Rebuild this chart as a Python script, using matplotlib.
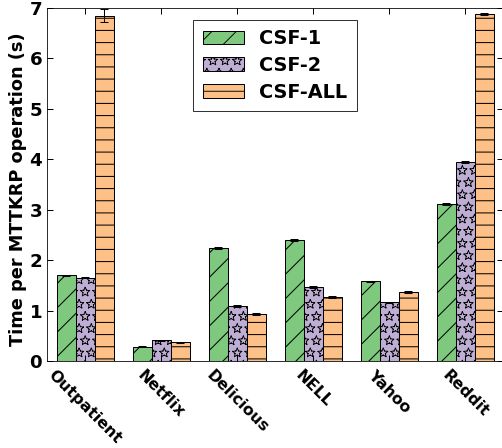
import numpy as np
import matplotlib
matplotlib.use("Agg")
import matplotlib.pyplot as plt
from matplotlib import hatch as mhatch
from matplotlib.path import Path

datasets = ["Outpatient", "Netflix", "Delicious", "NELL", "Yahoo", "Reddit"]
series_names = ["CSF-1", "CSF-2", "CSF-ALL"]
csf1 = [1.70, 0.28, 2.24, 2.40, 1.58, 3.12]
csf2 = [1.65, 0.41, 1.09, 1.47, 1.17, 3.94]
csfall = [6.85, 0.37, 0.93, 1.27, 1.37, 6.88]
csf1_err = [0.01, 0.01, 0.02, 0.02, 0.01, 0.02]
csf2_err = [0.01, 0.01, 0.02, 0.02, 0.01, 0.02]
csfall_err = [0.13, 0.01, 0.02, 0.02, 0.01, 0.02]
y_ticks = [0, 1, 2, 3, 4, 5, 6, 7]

colors = ["#7fc97f", "#beaed4", "#fdc086"]
hatches = ["/", "*", "-"]
hatch_widths = [1.0, 0.9, 1.0]


class OutlineStars(mhatch.HatchPatternBase):
    """Star hatch drawn as separate edge segments so the stars stay hollow."""
    size = 0.38

    def __init__(self, hatch, density):
        self.num_rows = hatch.count("*") * density
        star = Path.unit_regular_star(5).vertices[:10]
        self.edges = np.empty((20, 2))
        self.edges[0::2] = star
        self.edges[1::2] = np.roll(star, -1, axis=0)
        if self.num_rows == 0:
            self.num_shapes = 0
        else:
            self.num_shapes = ((self.num_rows // 2 + 1) * (self.num_rows + 1)
                               + (self.num_rows // 2) * self.num_rows)
        self.num_vertices = self.num_shapes * len(self.edges)

    def set_vertices_and_codes(self, vertices, codes):
        offset = 1.0 / self.num_rows
        shape = self.edges * offset * self.size
        shape_codes = np.tile([Path.MOVETO, Path.LINETO], 10)
        parts, code_parts = [], []
        for row in range(self.num_rows + 1):
            if row % 2 == 0:
                cols = np.linspace(0, 1, self.num_rows + 1)
            else:
                cols = np.linspace(offset / 2, 1 - offset / 2, self.num_rows)
            for col in cols:
                parts.append(shape + [col, row * offset])
                code_parts.append(shape_codes)
        vertices[:] = np.concatenate(parts)
        codes[:] = np.concatenate(code_parts)


mhatch._hatch_types = [OutlineStars if t is mhatch.Stars else t
                       for t in mhatch._hatch_types]

plt.rcParams["font.weight"] = "bold"

dpi = 73
fig = plt.figure(figsize=(502 / dpi, 448 / dpi), dpi=dpi)
ax = fig.add_axes([0.094, 0.194, 0.908, 0.788])

x = np.arange(len(datasets))
width = 0.25
values = [csf1, csf2, csfall]
errors = [csf1_err, csf2_err, csfall_err]
for i, (vals, errs) in enumerate(zip(values, errors)):
    with plt.rc_context({"hatch.linewidth": hatch_widths[i]}):
        ax.bar(x + (i - 1) * width, vals, width, yerr=errs, color=colors[i],
               edgecolor="black", linewidth=1.0, hatch=hatches[i],
               label=series_names[i], capsize=4,
               error_kw=dict(ecolor="black", elinewidth=1.0, capthick=1.0))

ax.set_xlim(-0.5, len(datasets) - 0.5)
ax.set_ylim(0, 7)
ax.set_yticks(y_ticks)
ax.set_yticklabels([str(t) for t in y_ticks], fontsize=18, fontweight="bold")
ax.set_xticks(x)
ax.set_xticklabels(datasets, rotation=-45, ha="center",
                   fontsize=15.5, fontweight="bold")
ax.tick_params(direction="in", top=True, right=True, length=6, width=1)
ax.tick_params(axis="x", pad=6)
ax.tick_params(axis="y", pad=5)
ax.set_ylabel("Time per MTTKRP operation (s)", fontsize=17.5,
              fontweight="bold", labelpad=2)
ax.yaxis.label.set_y(0.486)

with plt.rc_context({"hatch.linewidth": 0.9}):
    leg = ax.legend(loc="upper center", prop=dict(size=19, weight="bold"),
                    fancybox=False, edgecolor="black", handlelength=2.1,
                    handleheight=0.7, labelspacing=0.4, borderpad=0.5,
                    borderaxespad=0.6)
leg.get_frame().set_linewidth(1.0)

fig.savefig("out.png", dpi=dpi)
